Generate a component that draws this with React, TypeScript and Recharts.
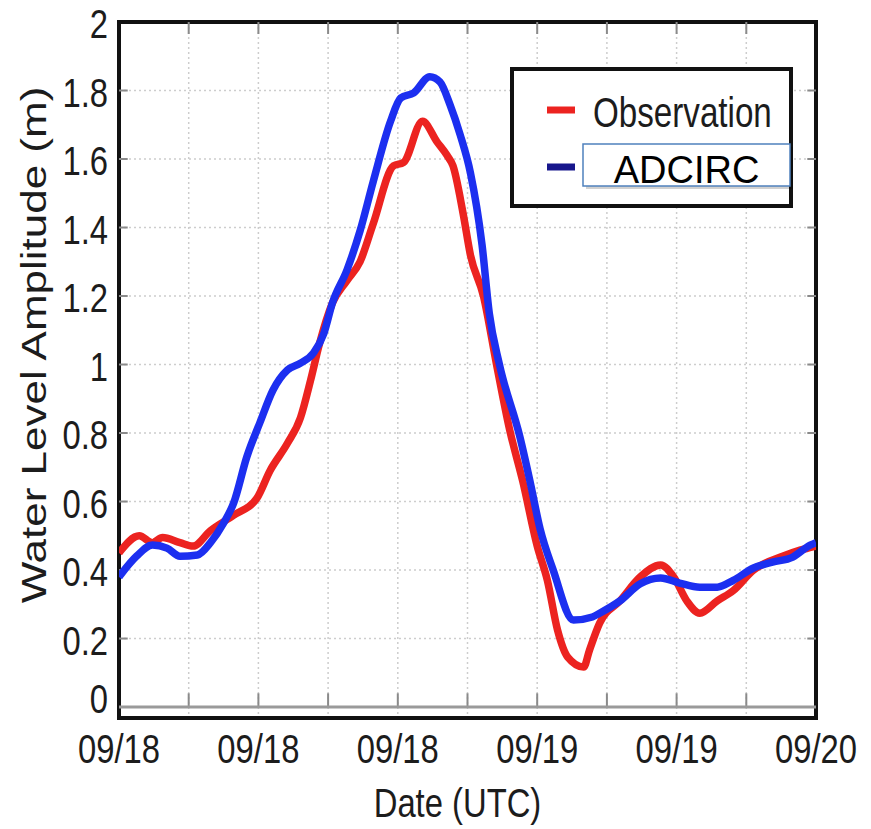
import { CartesianGrid, Line, LineChart, ReferenceArea, ReferenceLine, XAxis, YAxis } from "recharts";

// hours since 09/18 00:00 UTC, water level in metres
const obsHours = [0, 1.4, 2.3, 3.0, 4.2, 5.1, 6.3, 7.9, 9.5, 10.4, 11.6, 12.5, 13.2, 13.8, 14.7, 15.7, 16.6, 17.5, 18.9, 19.6, 20.9, 21.9, 22.6, 23.0, 23.7, 24.2, 25.1, 26.0, 26.9, 27.8, 28.8, 29.5, 30.2, 30.9, 32.0, 32.4, 33.1, 34.5, 35.9, 37.3, 38.2, 39.1, 40.0, 41.2, 42.3, 43.7, 45.7, 46.9, 48];
const obsLevel = [0.45, 0.5, 0.48, 0.495, 0.48, 0.47, 0.515, 0.56, 0.61, 0.69, 0.77, 0.845, 0.955, 1.06, 1.18, 1.245, 1.3, 1.41, 1.58, 1.59, 1.71, 1.65, 1.61, 1.58, 1.44, 1.32, 1.2, 1.0, 0.81, 0.66, 0.47, 0.37, 0.225, 0.146, 0.117, 0.166, 0.245, 0.31, 0.38, 0.415, 0.38, 0.31, 0.274, 0.31, 0.34, 0.4, 0.44, 0.458, 0.47];

const adcHours = [0, 1.2, 2.3, 3.3, 4.2, 5.4, 6.3, 7.2, 7.9, 8.8, 9.7, 10.6, 11.6, 12.5, 13.4, 14.1, 14.7, 15.7, 16.6, 17.5, 18.7, 19.4, 20.3, 21.4, 22.1, 22.8, 23.5, 24.2, 25.0, 25.5, 26.2, 27.6, 28.3, 29.0, 29.9, 31.3, 32.6, 33.1, 34.5, 35.9, 37.3, 38.6, 40.0, 41.2, 42.3, 43.7, 45.0, 46.4, 47.6, 48];
const adcLevel = [0.38, 0.44, 0.473, 0.464, 0.44, 0.444, 0.48, 0.537, 0.596, 0.73, 0.83, 0.925, 0.984, 1.004, 1.034, 1.09, 1.18, 1.276, 1.39, 1.533, 1.71, 1.778, 1.793, 1.84, 1.825, 1.758, 1.67, 1.56, 1.35, 1.15, 1.0, 0.79, 0.66, 0.52, 0.4, 0.254, 0.263, 0.274, 0.31, 0.36, 0.377, 0.362, 0.35, 0.35, 0.37, 0.406, 0.423, 0.438, 0.473, 0.48];

const xTicks = [0, 4.8, 9.6, 14.4, 19.2, 24, 28.8, 33.6, 38.4, 43.2, 48];
const xTickLabels = ["09/18", "", "09/18", "", "09/18", "", "09/19", "", "09/19", "", "09/20"];
const yTicks = [0, 0.2, 0.4, 0.6, 0.8, 1, 1.2, 1.4, 1.6, 1.8, 2];
const yTickLabels = ["0", "0.2", "0.4", "0.6", "0.8", "1", "1.2", "1.4", "1.6", "1.8", "2"];

const seriesNames = ["Observation", "ADCIRC"];
const lineColors = ["#ec2320", "#1c2ff0"];
const legendColors = ["#ec2320", "#17168c"];

const FONT = '"Liberation Sans", Arial, sans-serif';
const TEXT = "#1c1c1c";

const obsData = obsHours.map((h, i) => ({ h, v: obsLevel[i] }));
const adcData = adcHours.map((h, i) => ({ h, v: adcLevel[i] }));

function XTick({ x, y, payload }: any) {
  const label = xTickLabels[xTicks.indexOf(payload.value)];
  if (!label) return <g />;
  return (
    <text transform={`translate(${x},${y + 45}) scale(0.8,1)`} textAnchor="middle" fontSize={41} fontFamily={FONT} fill={TEXT}>
      {label}
    </text>
  );
}

function YTick({ x, y, payload }: any) {
  const i = yTicks.indexOf(payload.value);
  // the zero label sits a bit higher in the original, clear of the date labels
  const dy = i === 0 ? 6 : 16;
  return (
    <text transform={`translate(${x - 11},${y + dy}) scale(0.8,1)`} textAnchor="end" fontSize={41} fontFamily={FONT} fill={TEXT}>
      {yTickLabels[i]}
    </text>
  );
}

function Legend() {
  return (
    <div style={{ position: "absolute", left: 510, top: 67 }}>
      <svg width={284} height={142}>
        <rect x={2} y={2} width={279} height={137} fill="#fff" stroke="#111" strokeWidth={4} />
        <line x1={37} x2={65} y1={43} y2={43} stroke={legendColors[0]} strokeWidth={7} />
        <text transform="translate(83,60) scale(0.79,1)" fontSize={42} fontFamily={FONT} fill={TEXT}>
          {seriesNames[0]}
        </text>
        <line x1={37} x2={65} y1={100} y2={100} stroke={legendColors[1]} strokeWidth={7} />
        <rect x={76} y={80} width={207} height={42} fill="#000" opacity={0.18} />
        <rect x={73} y={77} width={207} height={42} fill="#fff" stroke="#4f81bd" strokeWidth={1.5} />
        <text x={176.5} y={116} textAnchor="middle" fontSize={38} fontFamily={FONT} fill="#000">
          {seriesNames[1]}
        </text>
      </svg>
    </div>
  );
}

export default function App() {
  const innerX = xTicks.slice(1, -1);
  const innerY = yTicks.slice(1, -1);
  return (
    <div style={{ position: "absolute", left: 0, top: 0, width: 871, height: 829, background: "#fff" }}>
      <LineChart width={871} height={829} margin={{ top: 22, right: 55, bottom: 0, left: 0 }}>
        <CartesianGrid stroke="#cdcdcd" strokeDasharray="2 3" strokeWidth={1.5} />
        <XAxis
          type="number"
          dataKey="h"
          domain={[0, 48]}
          ticks={xTicks}
          allowDataOverflow
          height={111}
          axisLine={false}
          tickLine={false}
          tickSize={0}
          tickMargin={0}
          tick={<XTick />}
          label={({ viewBox }: any) => (
            <text transform={`translate(${viewBox.x + viewBox.width / 2 - 10},${viewBox.y + 99}) scale(0.8,1)`} textAnchor="middle" fontSize={41} fontFamily={FONT} fill={TEXT}>
              Date (UTC)
            </text>
          )}
        />
        <YAxis
          type="number"
          domain={[-0.032, 2]}
          ticks={yTicks}
          allowDataOverflow
          width={119}
          axisLine={false}
          tickLine={false}
          tickSize={0}
          tickMargin={0}
          tick={<YTick />}
          label={({ viewBox }: any) => (
            <text transform={`translate(${viewBox.x + 46},${viewBox.y + viewBox.height / 2 - 25}) scale(0.8,1) rotate(-90)`} textAnchor="middle" fontSize={44} fontFamily={FONT} fill={TEXT}>
              Water Level Amplitude (m)
            </text>
          )}
        />
        {innerX.map((t) => (
          <ReferenceLine key={`b${t}`} segment={[{ x: t, y: 0 }, { x: t, y: 0.04 }]} stroke="#8a8a8a" strokeWidth={2} />
        ))}
        {innerX.map((t) => (
          <ReferenceLine key={`t${t}`} segment={[{ x: t, y: 2 }, { x: t, y: 1.965 }]} stroke="#8a8a8a" strokeWidth={2} />
        ))}
        {innerY.map((v) => (
          <ReferenceLine key={`l${v}`} segment={[{ x: 0, y: v }, { x: 0.6, y: v }]} stroke="#8a8a8a" strokeWidth={2} />
        ))}
        {innerY.map((v) => (
          <ReferenceLine key={`r${v}`} segment={[{ x: 47.4, y: v }, { x: 48, y: v }]} stroke="#8a8a8a" strokeWidth={2} />
        ))}
        <ReferenceLine y={0} stroke="#9a9a9a" strokeWidth={3} />
        <Line data={obsData} dataKey="v" name={seriesNames[0]} type="monotone" stroke={lineColors[0]} strokeWidth={7.5} dot={false} isAnimationActive={false} />
        <Line data={adcData} dataKey="v" name={seriesNames[1]} type="monotone" stroke={lineColors[1]} strokeWidth={7.5} dot={false} isAnimationActive={false} />
        <ReferenceArea x1={0} x2={48} y1={-0.032} y2={2} fill="none" stroke="#111" strokeWidth={4} />
      </LineChart>
      <Legend />
    </div>
  );
}
